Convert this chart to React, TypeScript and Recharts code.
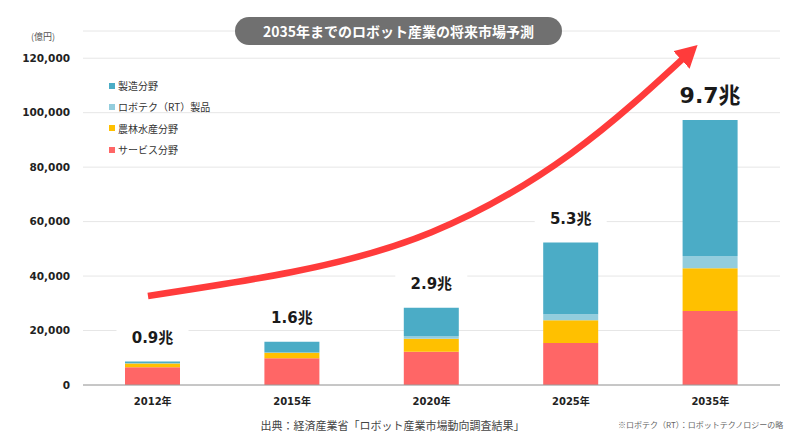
import React from 'react';
import {
  ComposedChart,
  Bar,
  Line,
  XAxis,
  YAxis,
  CartesianGrid,
  LabelList,
} from 'recharts';

const years = ['2012年', '2015年', '2020年', '2025年', '2035年'];
const serviceValues = [6500, 9800, 12200, 15400, 27200];
const agriValues = [1400, 2000, 4800, 8400, 15700];
const rtValues = [100, 100, 1000, 2200, 4500];
const manufacturingValues = [600, 4000, 10400, 26300, 49900];
const totalLabels = ['0.9兆', '1.6兆', '2.9兆', '5.3兆', '9.7兆'];
const yTicks = [0, 20000, 40000, 60000, 80000, 100000, 120000];

// trend arrow, x in category units (0..5), y in 億円
const trendX = [0.466, 1.5, 2.5, 3.5, 4.372];
const trendY = [32700, 41500, 56100, 85000, 123100];

const SERIES = [
  { key: 'manufacturing', name: '製造分野', color: '#4BACC6' },
  { key: 'rt', name: 'ロボテク（RT）製品', color: '#93CDDD' },
  { key: 'agri', name: '農林水産分野', color: '#FFC000' },
  { key: 'service', name: 'サービス分野', color: '#FF6666' },
];

const ARROW_COLOR = '#FF3B3B';
const NUM_FONT = '"DejaVu Sans", "Noto Sans CJK JP", sans-serif';
const JP_FONT = '"Noto Sans CJK JP", "Noto Sans", sans-serif';

const chartData = years.map((year, i) => ({
  year,
  service: serviceValues[i],
  agri: agriValues[i],
  rt: rtValues[i],
  manufacturing: manufacturingValues[i],
}));

const trendData = trendX.map((x, i) => ({ x, y: trendY[i] }));

const TotalLabel = (props: any) => {
  const { x, y, width, index } = props;
  const big = index === totalLabels.length - 1;
  const cx = Number(x) + Number(width) / 2;
  const cy = Number(y) - (big ? 25 : 24);
  return (
    <g>
      <rect x={cx - 36} y={cy - 11} width={72} height={22} fill="#fff" />
      <text
        x={cx}
        y={cy}
        textAnchor="middle"
        dominantBaseline="central"
        fontFamily={NUM_FONT}
        fontWeight="bold"
        fontSize={big ? 22 : 15}
        fill="#1a1a1a"
      >
        {totalLabels[index]}
      </text>
    </g>
  );
};

export default function App() {
  return (
    <div style={{ position: 'relative', width: 805, height: 442, background: '#fff', fontFamily: JP_FONT }}>
      <style>{`body { margin: 0; }`}</style>
      <svg width={0} height={0} style={{ position: 'absolute' }}>
        <defs>
          <marker
            id="trendArrow"
            markerWidth={22}
            markerHeight={24}
            refX={15}
            refY={12}
            orient="auto"
            markerUnits="userSpaceOnUse"
          >
            <path d="M0,0 L22,12 L0,24 Z" fill={ARROW_COLOR} />
          </marker>
        </defs>
      </svg>

      <ComposedChart
        width={805}
        height={442}
        data={chartData}
        margin={{ top: 31, right: 25, bottom: 27, left: 0 }}
      >
        <CartesianGrid vertical={false} stroke="#e6e6e6" />
        <XAxis
          dataKey="year"
          axisLine={{ stroke: '#9a9a9a' }}
          tickLine={false}
          tickSize={0}
          tickMargin={13}
          height={30}
          tick={{ fontFamily: NUM_FONT, fontWeight: 'bold', fontSize: 10, fill: '#222' }}
        />
        <XAxis xAxisId="trend" type="number" dataKey="x" domain={[0, 5]} hide />
        <YAxis
          width={83}
          domain={[0, 130000]}
          ticks={yTicks}
          axisLine={false}
          tickLine={false}
          tickSize={0}
          tickMargin={13}
          tickFormatter={(v: number) => v.toLocaleString('en-US')}
          tick={{ fontFamily: NUM_FONT, fontWeight: 'bold', fontSize: 10.5, fill: '#222' }}
        />
        <Bar dataKey="service" stackId="a" fill="#FF6666" barSize={55} isAnimationActive={false} />
        <Bar dataKey="agri" stackId="a" fill="#FFC000" barSize={55} isAnimationActive={false} />
        <Bar dataKey="rt" stackId="a" fill="#93CDDD" barSize={55} isAnimationActive={false} />
        <Bar dataKey="manufacturing" stackId="a" fill="#4BACC6" barSize={55} isAnimationActive={false}>
          <LabelList dataKey="manufacturing" content={TotalLabel} />
        </Bar>
        <Line
          xAxisId="trend"
          data={trendData}
          dataKey="y"
          type="natural"
          stroke={ARROW_COLOR}
          strokeWidth={6.5}
          dot={false}
          activeDot={false}
          markerEnd="url(#trendArrow)"
          isAnimationActive={false}
        />
      </ComposedChart>

      {/* title pill */}
      <div
        style={{
          position: 'absolute',
          left: 235,
          top: 17,
          width: 327,
          height: 28,
          borderRadius: 14,
          background: '#707070',
          color: '#fff',
          fontWeight: 'bold',
          fontSize: 14,
          lineHeight: '28px',
          textAlign: 'center',
        }}
      >
        2035年までのロボット産業の将来市場予測
      </div>

      <div style={{ position: 'absolute', left: 31, top: 30, fontSize: 9, color: '#555' }}>(億円)</div>

      {/* legend */}
      <div style={{ position: 'absolute', left: 109, top: 75 }}>
        {SERIES.map((s) => (
          <div key={s.key} style={{ display: 'flex', alignItems: 'center', height: 21.3, fontSize: 10, color: '#333' }}>
            <span style={{ width: 6, height: 6, background: s.color, marginRight: 3, display: 'inline-block' }} />
            {s.name}
          </div>
        ))}
      </div>

      <div style={{ position: 'absolute', left: 0, width: 785, top: 417, textAlign: 'center', fontSize: 11, color: '#444' }}>
        出典：経済産業省「ロボット産業市場動向調査結果」
      </div>
      <div style={{ position: 'absolute', left: 618, top: 419, fontSize: 8, color: '#666' }}>
        ※ロボテク（RT）：ロボットテクノロジーの略
      </div>
    </div>
  );
}
